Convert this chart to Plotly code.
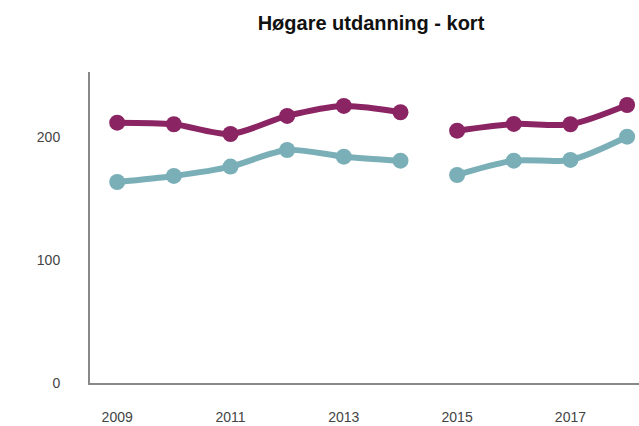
import plotly.graph_objects as go

years = [2009, 2010, 2011, 2012, 2013, 2014, 2015, 2016, 2017, 2018]
purple_vals = [211.6, 210.3, 202.4, 217.1, 225.2, 220.1, 205.1, 210.6, 210.3, 226.0]
teal_vals = [163.4, 168.3, 175.9, 189.4, 184.0, 180.7, 169.1, 180.7, 181.3, 200.2]
break_after = 2014  # series break between 2014 and 2015
y_ticks = [0, 100, 200]
x_ticks = [2009, 2011, 2013, 2015, 2017]

PURPLE = "#8a2463"
TEAL = "#7aafb8"

fig = go.Figure()

def add_series(vals, color):
    segs = [[i for i, y in enumerate(years) if y <= break_after],
            [i for i, y in enumerate(years) if y > break_after]]
    for seg in segs:
        fig.add_trace(go.Scatter(
            x=[years[i] for i in seg], y=[vals[i] for i in seg],
            mode="lines+markers", line=dict(color=color, width=6, shape="spline", smoothing=0.8),
            marker=dict(color=color, size=16), showlegend=False, cliponaxis=False,
        ))

add_series(purple_vals, PURPLE)
add_series(teal_vals, TEAL)

fig.update_layout(
    width=639, height=426,
    margin=dict(l=90, r=0, t=72, b=43),
    paper_bgcolor="white", plot_bgcolor="white",
    font=dict(family="Liberation Sans, Arial, sans-serif", size=14, color="#444444"),
    title=dict(text="<b>Høgare utdanning - kort</b>", x=0.5806, xanchor="center", xref="container",
               y=0.962, yanchor="top", font=dict(size=20, color="#111111")),
    xaxis=dict(range=[2008.52, 2018.21], tickvals=x_ticks, ticktext=[str(t) for t in x_ticks],
               showgrid=False, zeroline=False, showline=True, linecolor="#888888", linewidth=2,
               ticks="", ticklabelstandoff=20),
    yaxis=dict(range=[0, 252.8], tickvals=y_ticks, showgrid=False, zeroline=False,
               showline=True, linecolor="#888888", linewidth=2, ticks="", ticklabelstandoff=25),
)

fig.write_html(
    "out.html",
    config={"displayModeBar": False},
    post_script="document.body.style.margin='0';document.body.style.overflow='hidden';",
)
